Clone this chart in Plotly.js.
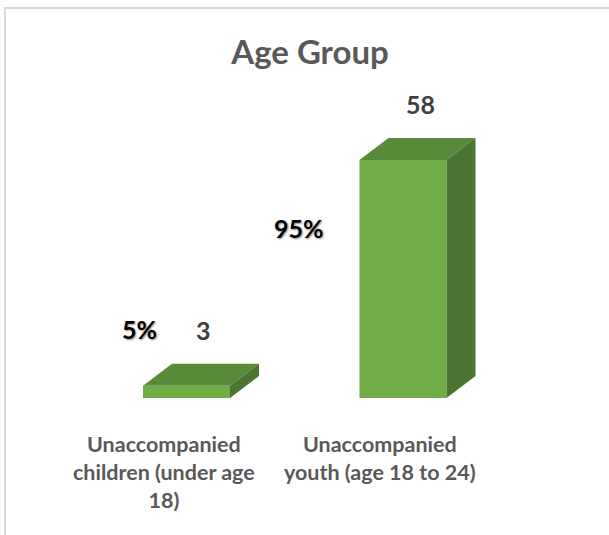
<!DOCTYPE html>
<html>
<head>
<meta charset="utf-8">
<script src="https://cdn.plot.ly/plotly-3.0.1.min.js"></script>
<style>
  html, body { margin: 0; padding: 0; background: #fff; }
  #wrap { position: relative; width: 609px; height: 535px; overflow: hidden; }
  #chart { position: absolute; left: 0; top: 0; width: 609px; height: 535px; }
  #frame { position: absolute; left: 4px; top: 7px; width: 620px; height: 600px;
           border-left: 2px solid #d9d9d9; border-top: 2px solid #d9d9d9; pointer-events: none; }
</style>
</head>
<body>
<div id="wrap">
  <div id="chart"></div>
  <div id="frame"></div>
</div>
<script>
// ---- data ----
const titleText = "Age Group";
const categories = ["Unaccompanied<br>children (under age<br>18)", "Unaccompanied<br>youth (age 18 to 24)"];
const values = [3, 58];
const percents = ["5%", "95%"];

// ---- style / geometry ----
const pxPerX = 216.5;          // pixels per category step
const pxPerY = 238 / 58;       // pixels per unit value
const barW = 87 / pxPerX;      // front face width in x units
const depthX = 29 / pxPerX;    // 3D depth offset in x units
const depthY = 22 / pxPerY;    // 3D depth offset in y units
const frontColor = "#70AD47";
const topColor = "#588A3A";
const sideColor = "#4A7430";

const plotLeft = 60, plotRight = 550, plotTop = 80, baseY = 398;
const xMin = (plotLeft - 186.5) / pxPerX;
const xMax = (plotRight - 186.5) / pxPerX;
const yMax = (baseY - plotTop) / pxPerY;

const xs = categories.map((c, i) => i);

const traces = [];
// front faces
traces.push({
  type: "bar", x: xs, y: values, width: barW,
  marker: { color: frontColor, line: { width: 0 } },
  hoverinfo: "skip", showlegend: false
});
// top and side faces
xs.forEach((x, i) => {
  const v = values[i];
  const xl = x - barW / 2, xr = x + barW / 2;
  traces.push({
    type: "scatter", mode: "lines", fill: "toself",
    x: [xl, xr, xr + depthX, xl + depthX, xl],
    y: [v, v, v + depthY, v + depthY, v],
    fillcolor: topColor, line: { width: 0, color: topColor },
    hoverinfo: "skip", showlegend: false
  });
  traces.push({
    type: "scatter", mode: "lines", fill: "toself",
    x: [xr, xr, xr + depthX, xr + depthX, xr],
    y: [0, v, v + depthY, depthY, 0],
    fillcolor: sideColor, line: { width: 0, color: sideColor },
    hoverinfo: "skip", showlegend: false
  });
});

const annotations = [];
// value labels
xs.forEach((x, i) => {
  annotations.push({
    x: x + depthX * 0.6, y: values[i] + depthY, xref: "x", yref: "y",
    text: "<b>" + values[i] + "</b>", showarrow: false,
    yanchor: "middle", yshift: 34,
    font: { family: "Lato, 'Open Sans', sans-serif", size: 25, color: "#404040" }
  });
});
// category labels
xs.forEach((x, i) => {
  annotations.push({
    x: x - 23 / pxPerX, y: 0, xref: "x", yref: "y",
    text: "<b>" + categories[i] + "</b>", showarrow: false,
    yanchor: "top", yshift: -31, align: "center",
    font: { family: "Lato, 'Open Sans', sans-serif", size: 21.5, color: "#595959" }
  });
});
// percentage labels (manually placed text boxes)
const pctPos = [[-0.215, 16.8], [0.52, 41.4]];
percents.forEach((p, i) => {
  annotations.push({
    x: pctPos[i][0], y: pctPos[i][1], xref: "x", yref: "y",
    text: "<b>" + p + "</b>", showarrow: false, yanchor: "middle",
    font: { family: "Lato, 'Open Sans', sans-serif", size: 25, color: "#000000",
            shadow: "1px 1px 2px rgba(0,0,0,0.45)" }
  });
});

const layout = {
  width: 609, height: 535,
  margin: { l: plotLeft, r: 609 - plotRight, t: plotTop, b: 535 - baseY, pad: 0 },
  paper_bgcolor: "#ffffff", plot_bgcolor: "#ffffff",
  title: {
    text: "<b>" + titleText + "</b>",
    xref: "container", yref: "container",
    x: 310 / 609, xanchor: "center",
    y: 1 - 52 / 535, yanchor: "middle",
    font: { family: "Lato, 'Open Sans', sans-serif", size: 33, color: "#595959" }
  },
  xaxis: { range: [xMin, xMax], showgrid: false, zeroline: false, showticklabels: false,
           showline: false, ticks: "", fixedrange: true },
  yaxis: { range: [0, yMax], showgrid: false, zeroline: false, showticklabels: false,
           showline: false, ticks: "", fixedrange: true },
  annotations: annotations,
  showlegend: false
};

Plotly.newPlot("chart", traces, layout, { displayModeBar: false, staticPlot: true });
</script>
</body>
</html>
